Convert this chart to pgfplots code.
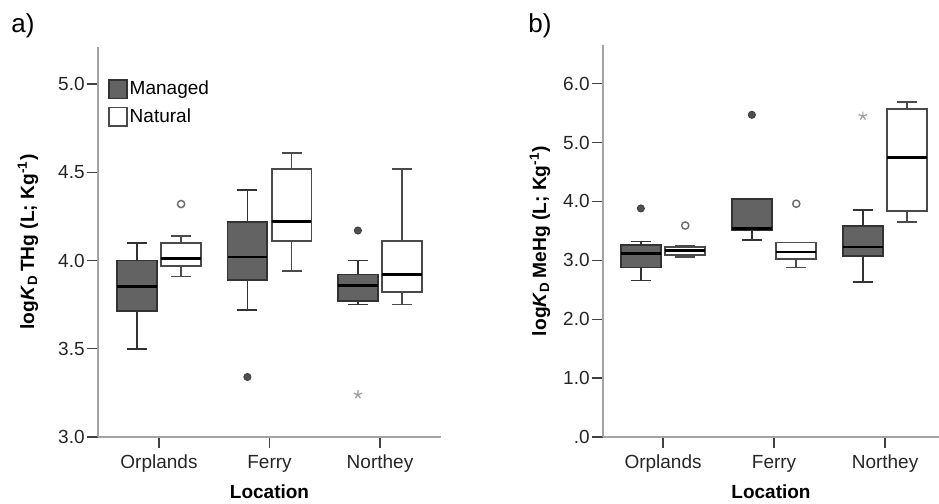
\documentclass[border=0pt]{standalone}
\usepackage{fontspec}
\setmainfont{Liberation Sans}
\usepackage{pgfplots}
\pgfplotsset{compat=1.18}
\usepgfplotslibrary{statistics}

\definecolor{mfill}{HTML}{636363}
\definecolor{mdraw}{HTML}{333333}
\definecolor{ndraw}{HTML}{4A4A4A}
\definecolor{axgray}{HTML}{A3A3A3}
\definecolor{outf}{HTML}{4F4F4F}
\definecolor{outo}{HTML}{6A6A6A}
\definecolor{stargray}{HTML}{9C9C9C}

\newcommand\fsz{\fontsize{9.5}{11.4}\selectfont}

\pgfplotsset{
  myax/.style={
    scale only axis,
    boxplot/draw direction=y,
    axis x line=bottom, axis y line=left,
    axis line style={-, axgray, line width=0.8pt},
    xtick={1,2,3}, xticklabels={Orplands,Ferry,Northey},
    tick align=outside, major tick length=5.5pt,
    tick style={black!75, line width=0.6pt},
    ticklabel style={font=\fsz, text=black!85},
    yticklabel style={inner xsep=1pt},
    xlabel={\textbf{Location}},
    xlabel style={font=\fsz, at={(axis description cs:0.5,-0.141)}, anchor=center},
    ylabel style={font=\fontsize{9.6}{11.5}\selectfont, anchor=center},
    clip=false,
  },
  mbox/.style={fill=mfill, draw=mdraw, line width=0.8pt,
    boxplot/every median/.style={line width=1.4pt, black}},
  nbox/.style={fill=white, draw=ndraw, line width=0.8pt,
    boxplot/every median/.style={line width=1.4pt, black}},
  fout/.style={only marks, mark=*, mark size=1.8pt, mark options={fill=outf, draw=outf!80!black}},
  oout/.style={only marks, mark=o, mark size=1.8pt, mark options={draw=outo, fill=white, line width=0.7pt}},
  sout/.style={only marks, mark=star, mark size=2.2pt, mark options={draw=stargray, line width=0.6pt}},
}

\begin{document}
\begin{tikzpicture}[x=1pt,y=1pt]
\path[use as bounding box] (0,0) rectangle (469.5,252);
\node[font=\fontsize{13}{15}\selectfont] at (11.5,239) {a)};
\node[font=\fontsize{13}{15}\selectfont] at (270,239) {b)};

% ---------------- panel a ----------------
\begin{axis}[myax,
  at={(49pt,33.5pt)}, anchor=south west,
  width=171.5pt, height=195pt,
  xmin=0.448, xmax=3.552, ymin=3.0, ymax=5.21,
  ytick={3,3.5,4,4.5,5}, yticklabels={3.0,3.5,4.0,4.5,5.0},
  ylabel={\textbf{log\textit{K}\textsubscript{D}\,THg (L; Kg\textsuperscript{-1})}},
  ylabel style={at={(axis description cs:-0.204,0.5)}},
  legend style={draw=none, fill=none, font=\fsz,
    at={(axis description cs:0.029,0.925)}, anchor=north west,
    inner sep=0pt, row sep=1.5pt, cells={anchor=west},
    nodes={inner xsep=1pt}},
]
\addlegendimage{legend image code/.code={\draw[fill=mfill,draw=mdraw,line width=0.7pt] (0pt,-4.6pt) rectangle (9pt,4.6pt);}}
\addlegendentry{Managed}
\addlegendimage{legend image code/.code={\draw[fill=white,draw=ndraw,line width=0.7pt] (0pt,-4.6pt) rectangle (9pt,4.6pt);}}
\addlegendentry{Natural}

% Orplands
\addplot[mbox, forget plot, boxplot prepared={draw position=0.8, box extend=0.36, whisker extend=0.18,
  lower whisker=3.50, lower quartile=3.715, median=3.855, upper quartile=4.00, upper whisker=4.10}] coordinates {};
\addplot[nbox, forget plot, boxplot prepared={draw position=1.2, box extend=0.36, whisker extend=0.18,
  lower whisker=3.91, lower quartile=3.97, median=4.013, upper quartile=4.10, upper whisker=4.14}] coordinates {};
% Ferry
\addplot[mbox, forget plot, boxplot prepared={draw position=1.8, box extend=0.36, whisker extend=0.18,
  lower whisker=3.72, lower quartile=3.89, median=4.02, upper quartile=4.22, upper whisker=4.40}] coordinates {};
\addplot[nbox, forget plot, boxplot prepared={draw position=2.2, box extend=0.36, whisker extend=0.18,
  lower whisker=3.94, lower quartile=4.11, median=4.22, upper quartile=4.52, upper whisker=4.61}] coordinates {};
% Northey
\addplot[mbox, forget plot, boxplot prepared={draw position=2.8, box extend=0.36, whisker extend=0.18,
  lower whisker=3.75, lower quartile=3.77, median=3.86, upper quartile=3.92, upper whisker=4.00}] coordinates {};
\addplot[nbox, forget plot, boxplot prepared={draw position=3.2, box extend=0.36, whisker extend=0.18,
  lower whisker=3.75, lower quartile=3.82, median=3.92, upper quartile=4.11, upper whisker=4.52}] coordinates {};

% outliers
\addplot[oout, forget plot] coordinates {(1.2,4.32)};
\addplot[fout, forget plot] coordinates {(1.8,3.34) (2.8,4.17)};
\addplot[sout, forget plot] coordinates {(2.8,3.24)};
\end{axis}

% ---------------- panel b ----------------
\begin{axis}[myax,
  at={(301.5pt,33.5pt)}, anchor=south west,
  width=168pt, height=196pt,
  xmin=0.459, xmax=3.486, ymin=0, ymax=6.655,
  ytick={0,1,2,3,4,5,6}, yticklabels={.0,1.0,2.0,3.0,4.0,5.0,6.0},
  ylabel={\textbf{log\textit{K}\textsubscript{D}\,MeHg (L; Kg\textsuperscript{-1})}},
  ylabel style={at={(axis description cs:-0.1875,0.5)}},
  xlabel style={at={(axis description cs:0.5,-0.140)}},
]
% Orplands
\addplot[mbox, boxplot prepared={draw position=0.8, box extend=0.36, whisker extend=0.18,
  lower whisker=2.66, lower quartile=2.88, median=3.11, upper quartile=3.26, upper whisker=3.32}] coordinates {};
\addplot[nbox, boxplot prepared={draw position=1.2, box extend=0.36, whisker extend=0.18,
  lower whisker=3.06, lower quartile=3.085, median=3.165, upper quartile=3.225, upper whisker=3.25}] coordinates {};
% Ferry
\addplot[mbox, boxplot prepared={draw position=1.8, box extend=0.36, whisker extend=0.18,
  lower whisker=3.34, lower quartile=3.51, median=3.54, upper quartile=4.04, upper whisker=4.05}] coordinates {};
\addplot[nbox, boxplot prepared={draw position=2.2, box extend=0.36, whisker extend=0.18,
  lower whisker=2.88, lower quartile=3.02, median=3.14, upper quartile=3.30, upper whisker=3.30}] coordinates {};
% Northey
\addplot[mbox, boxplot prepared={draw position=2.8, box extend=0.36, whisker extend=0.18,
  lower whisker=2.63, lower quartile=3.07, median=3.225, upper quartile=3.58, upper whisker=3.855}] coordinates {};
\addplot[nbox, boxplot prepared={draw position=3.2, box extend=0.36, whisker extend=0.18,
  lower whisker=3.65, lower quartile=3.84, median=4.75, upper quartile=5.57, upper whisker=5.69}] coordinates {};

% outliers
\addplot[fout] coordinates {(0.8,3.88) (1.8,5.47)};
\addplot[oout] coordinates {(1.2,3.59) (2.2,3.96)};
\addplot[sout] coordinates {(2.8,5.45)};
\end{axis}
\end{tikzpicture}
\end{document}
